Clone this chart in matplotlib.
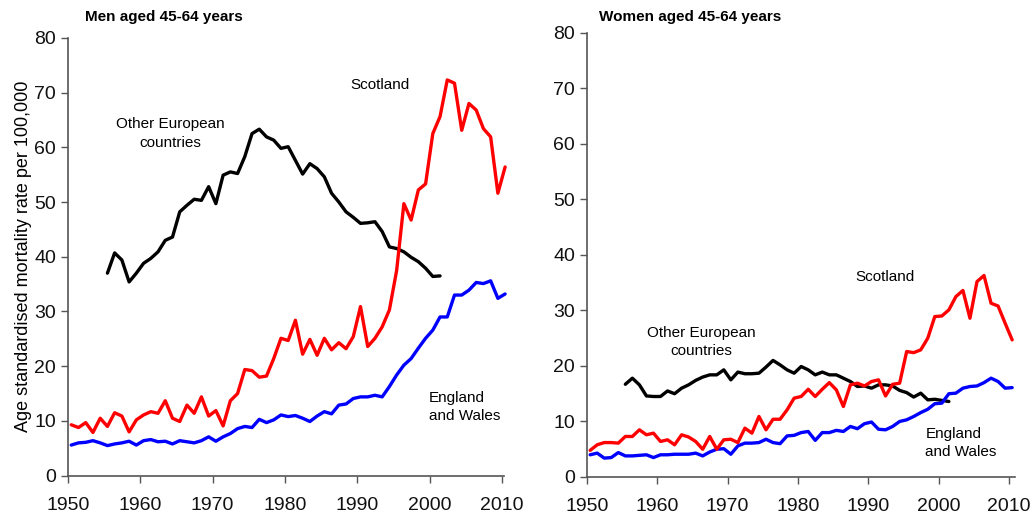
import numpy as np
import matplotlib
matplotlib.use("Agg")
import matplotlib.pyplot as plt

plt.rcParams['font.family'] = ['Liberation Sans', 'DejaVu Sans']

# DATA (annual values, plotted at mid-year)
years = np.arange(1950, 2011)
years_europe = np.arange(1955, 2002)

men_scotland = [
    9.3, 8.8, 9.7, 7.9, 10.5, 9.0, 11.5, 10.9, 8.0, 10.2,
    11.1, 11.7, 11.4, 13.7, 10.5, 9.9, 12.9, 11.4, 14.4, 10.9,
    11.9, 9.1, 13.7, 15.0, 19.4, 19.2, 18.0, 18.2, 21.4, 25.1,
    24.7, 28.4, 22.2, 24.9, 22.0, 25.1, 23.0, 24.3, 23.2, 25.4,
    30.9, 23.6, 25.1, 27.2, 30.3, 37.5, 49.7, 46.7, 52.2, 53.3,
    62.5, 65.6, 72.3, 71.7, 63.1, 68.0, 66.8, 63.4, 61.9, 51.6,
    56.4,
]
men_england = [
    5.6, 6.0, 6.1, 6.4, 6.0, 5.5, 5.8, 6.0, 6.3, 5.6,
    6.4, 6.6, 6.2, 6.3, 5.8, 6.4, 6.2, 6.0, 6.4, 7.1,
    6.3, 7.1, 7.7, 8.6, 9.0, 8.8, 10.3, 9.7, 10.2, 11.1,
    10.8, 11.0, 10.5, 9.9, 10.9, 11.7, 11.3, 12.9, 13.1, 14.1,
    14.4, 14.4, 14.7, 14.4, 16.3, 18.4, 20.2, 21.4, 23.3, 25.1,
    26.6, 29.0, 29.0, 33.0, 33.0, 33.9, 35.3, 35.1, 35.6, 32.4,
    33.2,
]
men_europe = [
    37.0, 40.7, 39.4, 35.4, 37.0, 38.8, 39.7, 40.9, 43.0, 43.6,
    48.2, 49.4, 50.5, 50.3, 52.8, 49.7, 54.9, 55.5, 55.2, 58.3,
    62.5, 63.3, 61.9, 61.3, 59.8, 60.1, 57.6, 55.1, 57.0, 56.1,
    54.6, 51.6, 50.0, 48.2, 47.2, 46.1, 46.2, 46.4, 44.6, 41.8,
    41.5, 40.9, 39.9, 39.1, 37.9, 36.4, 36.5,
]

women_scotland = [
    4.8, 5.8, 6.2, 6.2, 6.1, 7.3, 7.3, 8.5, 7.6, 7.9,
    6.4, 6.7, 5.8, 7.6, 7.2, 6.4, 5.0, 7.3, 5.0, 6.7,
    6.8, 6.2, 8.8, 7.9, 10.9, 8.5, 10.4, 10.4, 12.1, 14.2,
    14.5, 15.8, 14.5, 15.8, 17.0, 15.7, 12.7, 16.6, 16.9, 16.4,
    17.2, 17.5, 14.6, 16.7, 16.9, 22.6, 22.4, 22.9, 25.0, 28.9,
    29.0, 30.1, 32.5, 33.6, 28.6, 35.2, 36.3, 31.3, 30.8, 27.7,
    24.7,
]
women_england = [
    4.0, 4.3, 3.4, 3.5, 4.4, 3.8, 3.8, 3.9, 4.0, 3.5,
    4.0, 4.0, 4.1, 4.1, 4.1, 4.3, 3.8, 4.5, 5.0, 5.1,
    4.1, 5.6, 6.1, 6.1, 6.2, 6.8, 6.2, 6.0, 7.4, 7.5,
    8.0, 8.2, 6.6, 8.0, 8.0, 8.4, 8.2, 9.1, 8.7, 9.6,
    9.9, 8.6, 8.5, 9.1, 10.0, 10.3, 10.9, 11.6, 12.2, 13.2,
    13.3, 15.0, 15.1, 16.0, 16.3, 16.4, 17.0, 17.8, 17.2, 16.0,
    16.1,
]
women_europe = [
    16.7, 17.8, 16.6, 14.6, 14.5, 14.5, 15.5, 15.0, 16.0, 16.6,
    17.4, 18.0, 18.4, 18.4, 19.3, 17.5, 18.9, 18.6, 18.6, 18.7,
    19.8, 21.0, 20.2, 19.3, 18.7, 19.9, 19.3, 18.4, 18.9, 18.4,
    18.4, 17.8, 17.2, 16.3, 16.4, 16.0, 16.6, 16.6, 16.4, 15.6,
    15.2, 14.4, 15.1, 13.9, 14.0, 13.8, 13.6,
]

x_all = years + 0.45
x_eur = years_europe + 0.45

fig = plt.figure(figsize=(10.32, 5.14), dpi=100)
ax1 = fig.add_axes([0.0659, 0.0745, 0.4225, 0.852])
ax2 = fig.add_axes([0.5688, 0.072, 0.4147, 0.864])

lw = 2.4
spine_col = '#555555'

panels = [
    (ax1, men_scotland, men_england, men_europe, 2010.3),
    (ax2, women_scotland, women_england, women_europe, 2010.85),
]

for ax, scot, eng, eur, xmax in panels:
    ax.plot(x_eur, eur, color='black', lw=lw, solid_joinstyle='round',
            solid_capstyle='round', clip_on=False)
    ax.plot(x_all, eng, color='#0000FF', lw=lw, solid_joinstyle='round',
            solid_capstyle='round', clip_on=False)
    ax.plot(x_all, scot, color='#FF0000', lw=lw, solid_joinstyle='round',
            solid_capstyle='round', clip_on=False)

    ax.set_xlim(1950, xmax)
    ax.set_ylim(0, 80)
    ax.set_xticks(range(1950, 2011, 10))
    ax.set_yticks(range(0, 81, 10))
    for side in ['top', 'right']:
        ax.spines[side].set_visible(False)
    for side in ['left', 'bottom']:
        ax.spines[side].set_color(spine_col)
        ax.spines[side].set_linewidth(1.2)
    ax.tick_params(colors=spine_col, labelcolor='#111111', labelsize=14,
                   length=5, width=1.0)
    ax.tick_params(axis='x', pad=10)

ax1.set_ylabel("Age standardised mortality rate per 100,000", fontsize=13,
               labelpad=2)

# TITLES
fig.text(85 / 1032, 1 - 17 / 514, "Men aged 45-64 years", fontsize=11,
         fontweight='bold', va='center', ha='left')
fig.text(599 / 1032, 1 - 17 / 514, "Women aged 45-64 years", fontsize=11,
         fontweight='bold', va='center', ha='left')

# LABELS
fs = 11
ax1.text(1993.2, 71.3, "Scotland", fontsize=fs, ha='center', va='center')
ax1.text(1964.2, 62.5, "Other European\ncountries", fontsize=fs,
         ha='center', va='center', linespacing=1.4)
ax1.text(1999.9, 12.5, "England\nand Wales", fontsize=fs, ha='left',
         va='center', linespacing=1.4)

ax2.text(1992.4, 36.0, "Scotland", fontsize=fs, ha='center', va='center')
ax2.text(1966.2, 24.3, "Other European\ncountries", fontsize=fs,
         ha='center', va='center', linespacing=1.4)
ax2.text(1998.1, 6.1, "England\nand Wales", fontsize=fs, ha='left',
         va='center', linespacing=1.4)

fig.savefig("out.png", dpi=100)
